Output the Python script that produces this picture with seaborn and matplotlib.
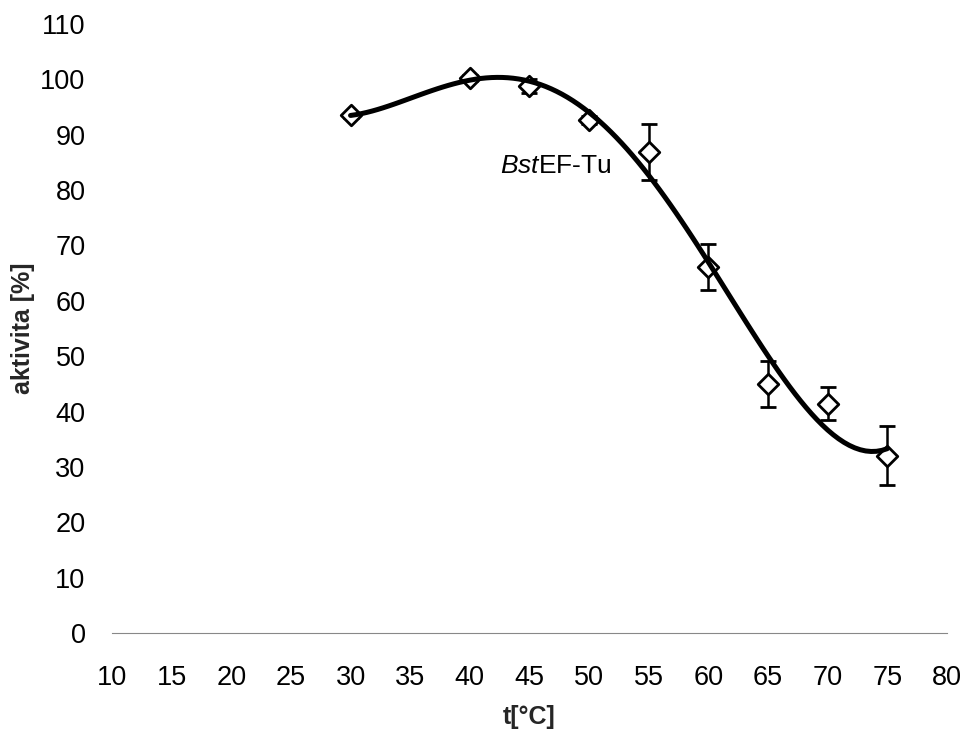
import numpy as np
import pandas as pd
import matplotlib
matplotlib.use("Agg")
import matplotlib.pyplot as plt
import seaborn as sns

# data
temperature = [30, 40, 45, 50, 55, 60, 65, 70, 75]
activity = [93.5, 100.2, 98.8, 92.7, 86.9, 66.1, 45.0, 41.4, 32.0]
activity_err = [0.5, 0.5, 1.2, 0.7, 5.0, 4.2, 4.2, 3.0, 5.3]
x_ticks = list(range(10, 81, 5))
y_ticks = list(range(0, 111, 10))
label_text = r"$\mathit{Bst}$EF-Tu"

df = pd.DataFrame({"t": temperature, "a": activity, "err": activity_err})

sns.set_theme(style="white")
plt.rcParams["font.family"] = ["Liberation Sans", "DejaVu Sans"]
plt.rcParams["mathtext.fontset"] = "custom"
plt.rcParams["mathtext.it"] = "Liberation Sans:italic"
plt.rcParams["mathtext.rm"] = "Liberation Sans"

fig = plt.figure(figsize=(9.67, 7.31), dpi=100)
ax = fig.add_axes([0.1158, 0.1341, 0.8635, 0.8331])

# error bars
ax.errorbar(df["t"], df["a"], yerr=df["err"], fmt="none", ecolor="black",
            elinewidth=1.8, capsize=5.5, capthick=2, zorder=2)
# markers
sns.scatterplot(data=df, x="t", y="a", marker="D", s=110, facecolor="white",
                edgecolor="black", linewidth=2, ax=ax, zorder=3)
# polynomial trend line
sns.regplot(data=df, x="t", y="a", order=4, ci=None, scatter=False,
            line_kws={"color": "black", "linewidth": 3.6, "zorder": 4},
            ax=ax, truncate=True)

ax.text(42.5, 84.4, label_text, fontsize=19, color="black", va="center")

ax.set_xlim(10, 80)
ax.set_ylim(0, 110)
ax.set_xticks(x_ticks)
ax.set_yticks(y_ticks)
ax.tick_params(axis="both", labelsize=19.5, colors="#999999", labelcolor="black",
               length=3, width=0.8, direction="out")
ax.tick_params(axis="x", pad=23, length=0)
ax.tick_params(axis="y", pad=16)

for s in ["top", "right", "left"]:
    ax.spines[s].set_visible(False)
ax.spines["bottom"].set_color("#888888")
ax.spines["bottom"].set_linewidth(0.8)

ax.set_xlabel("t[°C]", fontsize=18, fontweight="bold")
ax.set_ylabel("aktivita [%]", fontsize=18, fontweight="bold")
ax.xaxis.labelpad = 10
ax.yaxis.labelpad = 4

fig.savefig("out.png", dpi=100, facecolor="white")
